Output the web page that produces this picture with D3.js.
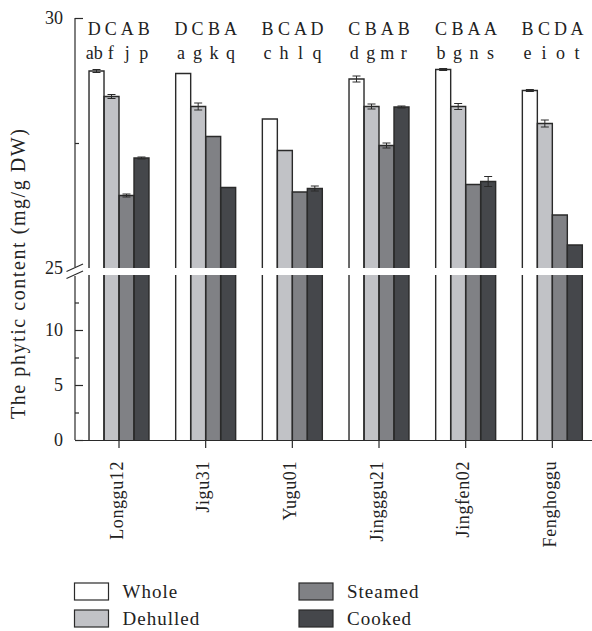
<!DOCTYPE html>
<html>
<head>
<meta charset="utf-8">
<script src="https://cdn.jsdelivr.net/npm/d3@7/dist/d3.min.js"></script>
<style>
  html, body { margin: 0; padding: 0; background: #fff; }
  svg { display: block; font-family: "Liberation Serif", "DejaVu Serif", serif; }
</style>
</head>
<body>
<svg id="chart" width="592" height="631"></svg>
<script>
// Millet varieties and processing treatments
const categories = ["Longgu12", "Jigu31", "Yugu01", "Jingggu21", "Jingfen02", "Fenghoggu"];
const seriesNames = ["Whole", "Dehulled", "Steamed", "Cooked"];

// Phytic acid content, mg/g DW (mean and error)
const whole       = [28.94, 28.89, 27.98, 28.78, 28.97, 28.55];
const dehulled    = [28.43, 28.23, 27.35, 28.23, 28.23, 27.89];
const steamed     = [26.45, 27.63, 26.52, 27.45, 26.67, 26.06];
const cooked      = [27.20, 26.61, 26.59, 28.22, 26.73, 25.46];
const wholeErr    = [0.03, 0.00, 0.00, 0.06, 0.02, 0.02];
const dehulledErr = [0.04, 0.07, 0.00, 0.05, 0.06, 0.07];
const steamedErr  = [0.03, 0.00, 0.00, 0.05, 0.00, 0.00];
const cookedErr   = [0.02, 0.00, 0.05, 0.02, 0.10, 0.00];

// Significance letters: within variety (upper case) and within treatment (lower case)
const upperLetters = [["D","C","A","B"], ["D","C","B","A"], ["B","C","A","D"], ["C","B","A","B"], ["C","B","A","A"], ["B","C","D","A"]];
const lowerLetters = [["ab","f","j","p"], ["a","g","k","q"], ["c","h","l","q"], ["d","g","m","r"], ["b","g","n","s"], ["e","i","o","t"]];

// Axis ticks for the two panels of the broken axis
const topMinor = [27.5];
const botTicks = [0, 5, 10];
const botMinor = [2.5, 7.5, 12.5];

const means = [whole, dehulled, steamed, cooked];
const errs = [wholeErr, dehulledErr, steamedErr, cookedErr];
const fills = ["#ffffff", "#c1c2c6", "#808185", "#45474b"];
const ink = "#2a2a2a";

const svg = d3.select("#chart");

const x0 = d3.scaleBand().domain(categories).range([75.67, 595.67]).paddingInner(0.308).paddingOuter(0.154);
const x1 = d3.scaleBand().domain(seriesNames).range([0, x0.bandwidth()]);
const yTop = d3.scaleLinear().domain([25, 30]).range([268, 18]);
const yBot = d3.scaleLinear().domain([0, 15]).range([440, 275]);
const color = d3.scaleOrdinal().domain(seriesNames).range(fills);

const rows = [];
categories.forEach((c, i) => {
  seriesNames.forEach((s, j) => {
    rows.push({ cat: c, ser: s, i, j, v: means[j][i], e: errs[j][i] });
  });
});

const bars = svg.append("g");
const bx = d => x0(d.cat) + x1(d.ser);
const bw = x1.bandwidth();

// lower segment: full from 0 to the top of the lower panel
bars.selectAll("rect.low").data(rows).join("rect")
  .attr("class", "low")
  .attr("x", bx).attr("width", bw)
  .attr("y", yBot(15)).attr("height", yBot(0) - yBot(15))
  .attr("fill", d => color(d.ser));

// upper segment: from 25 up to the value
bars.selectAll("rect.up").data(rows).join("rect")
  .attr("class", "up")
  .attr("x", bx).attr("width", bw)
  .attr("y", d => yTop(d.v)).attr("height", d => yTop(25) - yTop(d.v))
  .attr("fill", d => color(d.ser));

// outlines (open at the break)
bars.selectAll("path.outUp").data(rows).join("path")
  .attr("class", "outUp")
  .attr("d", d => `M${bx(d)},${yTop(25)}V${yTop(d.v)}H${bx(d) + bw}V${yTop(25)}`)
  .attr("fill", "none").attr("stroke", ink).attr("stroke-width", 1.4);
bars.selectAll("path.outLow").data(rows).join("path")
  .attr("class", "outLow")
  .attr("d", d => `M${bx(d)},${yBot(15)}V${yBot(0)}M${bx(d) + bw},${yBot(15)}V${yBot(0)}`)
  .attr("fill", "none").attr("stroke", ink).attr("stroke-width", 1.4);

// error bars
const eb = svg.append("g").attr("stroke", ink).attr("stroke-width", 1).attr("fill", "none");
rows.filter(d => d.e > 0).forEach(d => {
  const cx = bx(d) + bw / 2, cap = 4;
  const y1 = yTop(d.v + d.e), y2 = yTop(d.v - d.e);
  eb.append("path").attr("d", `M${cx},${y1}V${y2}M${cx - cap},${y1}H${cx + cap}M${cx - cap},${y2}H${cx + cap}`);
});

// y axis: tick marks point inwards, labels on the left
const axisX = 75;
const gTop = svg.append("g").attr("transform", `translate(${axisX},0)`)
  .call(d3.axisLeft(yTop).tickValues([30]).tickSizeInner(-8).tickSizeOuter(0).tickPadding(12).tickFormat(d3.format("d")));
const gTop25 = svg.append("g").attr("transform", `translate(${axisX},0)`)
  .call(d3.axisLeft(yTop).tickValues([25]).tickSizeInner(0).tickSizeOuter(0).tickPadding(12).tickFormat(d3.format("d")));
const gTopMinor = svg.append("g").attr("transform", `translate(${axisX},0)`)
  .call(d3.axisLeft(yTop).tickValues(topMinor).tickSizeInner(-4).tickSizeOuter(0).tickFormat(""));
const gBot = svg.append("g").attr("transform", `translate(${axisX},0)`)
  .call(d3.axisLeft(yBot).tickValues(botTicks).tickSizeInner(-8).tickSizeOuter(0).tickPadding(12).tickFormat(d3.format("d")));
const gBotMinor = svg.append("g").attr("transform", `translate(${axisX},0)`)
  .call(d3.axisLeft(yBot).tickValues(botMinor).tickSizeInner(-4).tickSizeOuter(0).tickFormat(""));

[gTop, gTop25, gTopMinor, gBot, gBotMinor].forEach(g => {
  g.select(".domain").remove();
  g.selectAll("line").attr("stroke", ink).attr("stroke-width", 1.2);
  g.selectAll("text").attr("font-family", "Liberation Serif").attr("font-size", 18).attr("fill", "#222");
});

// axis line with break marks
const axisG = svg.append("g").attr("stroke", ink).attr("stroke-width", 1.2).attr("fill", "none");
axisG.append("path").attr("d", `M${axisX},${yTop(30)}V${yTop(25) - 1}`);
axisG.append("path").attr("d", `M${axisX},${yBot(15) + 1}V${yBot(0)}`);
[yTop(25), yBot(15)].forEach(yc => {
  axisG.append("path").attr("d", `M${axisX - 8.5},${yc + 3.5}L${axisX + 8},${yc - 4}`).attr("stroke-width", 1.1);
});

// x axis
const gx = svg.append("g").attr("transform", `translate(0,${yBot(0)})`)
  .call(d3.axisBottom(x0).tickSizeInner(8).tickSizeOuter(0).tickFormat(""));
gx.select(".domain").attr("d", `M${axisX},0.5H592`).attr("stroke", ink).attr("stroke-width", 1.2);
gx.selectAll("line").attr("stroke", ink).attr("stroke-width", 1.2);

// category labels, rotated
svg.append("g").selectAll("text").data(categories).join("text")
  .attr("transform", d => `translate(${x0(d) + x0.bandwidth() / 2 + 3.5},461) rotate(-90)`)
  .attr("text-anchor", "end")
  .attr("font-size", 18).attr("letter-spacing", "0.6px").attr("fill", "#222")
  .text(d => d);

// significance letters
const letterStep = 16.5;
categories.forEach((c, i) => {
  const cx = x0(c) + x0.bandwidth() / 2;
  const g = svg.append("g").attr("font-size", 18).attr("fill", "#222").attr("text-anchor", "middle");
  upperLetters[i].forEach((t, j) => {
    g.append("text").attr("x", cx + (j - 1.5) * letterStep).attr("y", 35).text(t);
  });
  lowerLetters[i].forEach((t, j) => {
    g.append("text").attr("x", cx + (j - 1.5) * letterStep).attr("y", 59).text(t);
  });
});

// y axis title
svg.append("text")
  .attr("transform", "translate(25,274) rotate(-90)")
  .attr("text-anchor", "middle")
  .attr("font-size", 20).attr("fill", "#222")
  .attr("textLength", 290).attr("lengthAdjust", "spacing")
  .text("The phytic content (mg/g DW)");

// legend: two columns, two rows
const legendPos = [[74.5, 583], [74.5, 610], [299, 583], [299, 610]];
const leg = svg.append("g");
seriesNames.forEach((s, k) => {
  const [lx, ly] = legendPos[k];
  leg.append("rect").attr("x", lx).attr("y", ly).attr("width", 34).attr("height", 17)
    .attr("fill", color(s)).attr("stroke", ink).attr("stroke-width", 1.2);
  leg.append("text").attr("x", lx + 48).attr("y", ly + 14.5)
    .attr("font-size", 19).attr("letter-spacing", "1px").attr("fill", "#222").text(s);
});
</script>
</body>
</html>
